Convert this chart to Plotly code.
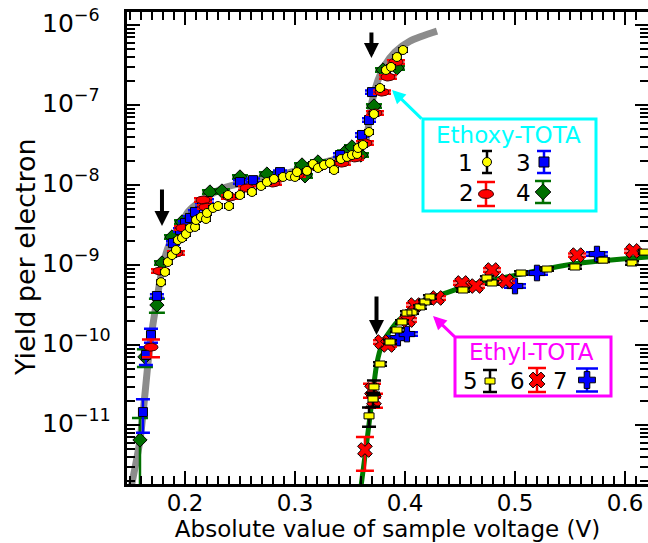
import numpy as np
import plotly.graph_objects as go

# ---------------- data ----------------
# Ethoxy-TOTA
s1_v = [0.1782, 0.1818, 0.1845, 0.1882, 0.1918, 0.1936, 0.1973, 0.2009, 0.2045, 0.2091,
        0.2100, 0.2145, 0.2191, 0.2200, 0.2255, 0.2300, 0.2391, 0.2400, 0.2500, 0.2609,
        0.2691, 0.2745, 0.2809, 0.2891, 0.2955, 0.3000, 0.3018, 0.3109, 0.3164, 0.3209,
        0.3264, 0.3318, 0.3355, 0.3418, 0.3473, 0.3518, 0.3564, 0.3573, 0.3618, 0.3673,
        0.3718, 0.3773, 0.3827, 0.3873, 0.3927, 0.3982]
s1_y = [6.1e-10, 8.2e-10, 1.09e-9, 1.33e-9, 1.54e-9, 2.05e-9, 2.18e-9, 2.44e-9, 2.9e-9, 2.99e-9,
        3.65e-9, 3.98e-9, 3.76e-9, 4.47e-9, 5.16e-9, 5.46e-9, 7.5e-9, 5.46e-9, 7.5e-9, 8.18e-9,
        9.72e-9, 1.09e-8, 1.19e-8, 1.26e-8, 1.3e-8, 1.26e-8, 1.45e-8, 1.5e-8, 1.83e-8, 1.63e-8,
        1.78e-8, 1.88e-8, 1.54e-8, 2.11e-8, 2.24e-8, 2.37e-8, 2.44e-8, 2.9e-8, 3.16e-8, 4.6e-8,
        7.72e-8, 1.63e-7, 2.74e-7, 2.99e-7, 3.98e-7, 4.87e-7]

s2_v = [0.1691, 0.1773, 0.1918, 0.1982, 0.2164, 0.2191, 0.2409, 0.2564, 0.2800, 0.3018,
        0.3200, 0.3427, 0.3545, 0.3636, 0.3727, 0.3791, 0.3845, 0.3918]
s2_y = [9.4e-11, 8.4e-10, 1.41e-9, 2.9e-9, 6.49e-9, 5.31e-9, 7.08e-9, 9.17e-9, 1.06e-8, 1.33e-8,
        1.68e-8, 1.88e-8, 2.18e-8, 3.35e-8, 7.94e-8, 1.45e-7, 2.24e-7, 3.45e-7]

s3_v = [0.1618, 0.1645, 0.1691, 0.1745, 0.1891, 0.1955, 0.2000, 0.2045, 0.2091, 0.2155,
        0.2200, 0.2500, 0.2618, 0.2864, 0.3409, 0.3609, 0.3673, 0.3700]
s3_y = [1.45e-11, 7.5e-11, 1.33e-10, 4.1e-10, 1.88e-9, 2.74e-9, 3.35e-9, 3.87e-9, 4.6e-9, 5.62e-9,
        6.31e-9, 1.09e-8, 1.15e-8, 1.45e-8, 2.37e-8, 4.22e-8, 6.49e-8, 1.45e-7]

s4_v = [0.1591, 0.1636, 0.1745, 0.1791, 0.1882, 0.1973, 0.2227, 0.2336, 0.2500, 0.2745,
        0.3064, 0.3091, 0.3209, 0.3455, 0.3518, 0.3600, 0.3718, 0.3800, 0.3927]
s4_y = [6.5e-12, 7.1e-11, 3.16e-10, 1.06e-9, 2.24e-9, 3.45e-9, 8.18e-9, 8.41e-9, 1.26e-8, 1.37e-8,
        1.78e-8, 1.3e-8, 1.94e-8, 2.58e-8, 2.99e-8, 2.37e-8, 9.72e-8, 2.74e-7, 2.9e-7]

# Ethyl-TOTA
s5_v = [0.3673, 0.3709, 0.3718, 0.3773, 0.3864, 0.3927, 0.3973, 0.4018, 0.4064, 0.4136,
        0.4182, 0.4227, 0.4527, 0.4745, 0.4791, 0.5055, 0.5291, 0.5545, 0.5800, 0.6064, 0.6180]
s5_y = [1.3e-11, 2.11e-11, 2.99e-11, 5.79e-11, 1.09e-10, 1.54e-10, 1.94e-10, 2.51e-10, 2.58e-10,
        2.99e-10, 3.45e-10, 3.98e-10, 4.87e-10, 6.88e-10, 5.96e-10, 7.94e-10, 8.91e-10, 9.44e-10,
        1.15e-9, 1.06e-9, 1.45e-9]

s6_v = [0.3636, 0.3700, 0.3718, 0.3791, 0.3845, 0.4027, 0.4091, 0.4291, 0.4518, 0.4645,
        0.4791, 0.4918, 0.5564, 0.6073]
s6_y = [4.87e-12, 2.74e-11, 2.05e-11, 1.09e-10, 1.0e-10, 2.05e-10, 3.16e-10, 3.87e-10, 5.96e-10,
        5.46e-10, 8.66e-10, 6.31e-10, 1.33e-9, 1.5e-9]

s7_v = [0.3936, 0.4018, 0.5000, 0.5200, 0.5745]
s7_y = [1.22e-10, 1.37e-10, 5.46e-10, 7.94e-10, 1.37e-9]

# y tick decades (labels 10^n)
y_tick_exps = [-6, -7, -8, -9, -10, -11]

# relative error bars: default and per-point exceptions
err_default = 0.05
s2_err_special = {0: 0.25}
s3_err_special = {0: 0.45, 1: 0.25, 2: 0.20}
s4_err_special = {0: 0.88, 1: 0.25, 2: 0.20}
s5_err_special = {0: 0.27, 1: 0.20, 2: 0.20}
s6_err_special = {0: 0.45, 1: 0.20, 2: 0.20}

# model curves
fit_ethoxy_v = [0.1515, 0.1591, 0.1682, 0.1745, 0.1800, 0.1864, 0.1955, 0.2027, 0.2136, 0.2336,
                0.2600, 0.2864, 0.3136, 0.3409, 0.3591, 0.3645, 0.3673, 0.3700, 0.3755, 0.3818,
                0.3909, 0.4045, 0.4291]
fit_ethoxy_y = [1.8e-12, 6.5e-12, 1.0e-10, 3.7e-10, 1.0e-9, 1.9e-9, 3.0e-9, 4.6e-9, 6.2e-9, 9.0e-9,
                1.12e-8, 1.33e-8, 1.7e-8, 2.2e-8, 2.8e-8, 3.7e-8, 6.0e-8, 1.1e-7, 2.05e-7, 3.16e-7,
                4.6e-7, 6.3e-7, 8.4e-7]
fit_ethyl_v = [0.3595, 0.3655, 0.3700, 0.3745, 0.3790, 0.3890, 0.4018, 0.4182, 0.4318, 0.4591,
               0.4927, 0.5527, 0.6209]
fit_ethyl_y = [1.5e-12, 6.5e-12, 2.05e-11, 5.96e-11, 1.0e-10, 1.68e-10, 2.51e-10, 3.65e-10,
               4.22e-10, 5.62e-10, 7.08e-10, 1.03e-9, 1.26e-9]

# ---------------- layout geometry ----------------
W, H = 648, 543
ML, MR, MT, MB = 127, 0, 12, 59
PW, PH = W - ML - MR, H - MT - MB
XR = [0.1473, 0.6209]
YR = [-11.7375, -5.8375]
KX = PW / (XR[1] - XR[0])   # px per volt
KY = PH / (YR[1] - YR[0])   # px per decade

FONT = "DejaVu Sans"
FS = 23
YEL, RED, BLU, GRN = "#FFFF00", "#FF0000", "#0000FF", "#006F00"
CYAN, MAG = "#00FFFF", "#FF00FF"


def errs(ys, special):
    return [y * special.get(i, err_default) for i, y in enumerate(ys)]


def blob_polys(vs, ys, a, b, kind, log=True, kx=KX, ky=KY):
    X, Y = [], []
    for v, y in zip(vs, ys):
        if kind == "ellipse":
            t = np.linspace(0, 2 * np.pi, 29)
            dx, dy = a * np.cos(t), b * np.sin(t)
        else:
            dx = np.array([-a, a, a, -a, -a])
            dy = np.array([-b, -b, b, b, -b])
        X += list(v + dx / kx) + [None]
        if log:
            Y += list(10 ** (np.log10(y) + dy / ky)) + [None]
        else:
            Y += list(y + dy / ky) + [None]
    return X, Y


fig = go.Figure()

# model curves
fig.add_trace(go.Scatter(x=fit_ethoxy_v, y=fit_ethoxy_y, mode="lines",
                         line=dict(color="#8c8c8c", width=7, shape="spline", smoothing=0.8),
                         hoverinfo="skip"))
fig.add_trace(go.Scatter(x=fit_ethyl_v, y=fit_ethyl_y, mode="lines",
                         line=dict(color="#007A00", width=5, shape="spline", smoothing=0.8),
                         hoverinfo="skip"))


def err_dict(arr, color, w):
    return dict(type="data", array=arr, visible=True, color=color, thickness=2.5, width=w)


# Ethoxy: 4 (green diamond), 3 (blue square), 2 (red ellipse), 1 (yellow circle)
fig.add_trace(go.Scatter(x=s4_v, y=s4_y, mode="markers", name="4",
                         marker=dict(symbol="diamond", size=11, color=GRN, line=dict(color="black", width=1)),
                         error_y=err_dict(errs(s4_y, s4_err_special), GRN, 8)))
fig.add_trace(go.Scatter(x=s3_v, y=s3_y, mode="markers", name="3",
                         marker=dict(symbol="square", size=9, color=BLU, line=dict(color="black", width=1)),
                         error_y=err_dict(errs(s3_y, s3_err_special), BLU, 7)))
fig.add_trace(go.Scatter(x=s2_v, y=s2_y, mode="markers", name="2 err",
                         marker=dict(size=2, color="rgba(0,0,0,0)"),
                         error_y=err_dict(errs(s2_y, s2_err_special), RED, 9)))
ex, ey = blob_polys(s2_v, s2_y, 7, 4, "ellipse")
fig.add_trace(go.Scatter(x=ex, y=ey, mode="lines", fill="toself", fillcolor=RED,
                         line=dict(color="#400000", width=1), name="2", hoverinfo="skip"))
fig.add_trace(go.Scatter(x=s1_v, y=s1_y, mode="markers", name="1",
                         marker=dict(symbol="circle", size=9, color=YEL, line=dict(color="black", width=1)),
                         error_y=err_dict([y * err_default for y in s1_y], "black", 5)))

# Ethyl: 7 (blue cross), 6 (red x), 5 (yellow rectangle)
fig.add_trace(go.Scatter(x=s7_v, y=s7_y, mode="markers", name="7",
                         marker=dict(symbol="cross", size=13, color=BLU, line=dict(color="black", width=1)),
                         error_y=err_dict([y * err_default for y in s7_y], BLU, 11)))
fig.add_trace(go.Scatter(x=s6_v, y=s6_y, mode="markers", name="6",
                         marker=dict(symbol="x", size=13, color=RED, line=dict(color="black", width=1)),
                         error_y=err_dict(errs(s6_y, s6_err_special), RED, 9)))
fig.add_trace(go.Scatter(x=s5_v, y=s5_y, mode="markers", name="5 err",
                         marker=dict(size=2, color="rgba(0,0,0,0)"),
                         error_y=err_dict(errs(s5_y, s5_err_special), "black", 7)))
rx, ry = blob_polys(s5_v, s5_y, 5, 3, "rect")
fig.add_trace(go.Scatter(x=rx, y=ry, mode="lines", fill="toself", fillcolor=YEL,
                         line=dict(color="black", width=1), name="5", hoverinfo="skip"))


# ---------------- legend boxes (paper-fraction overlay axes) ----------------
def fx(px):
    return (px - ML) / PW


def fy(py):
    return (MT + PH - py) / PH


KXP, KYP = PW, PH  # px per unit of overlay axes

leg = [  # (px, py, symbol, size, color, errcolor, err_px, capw)
    (487, 162, "circle", 9, YEL, "black", 11, 5),
    (544, 162, "square", 10, BLU, BLU, 11, 7),
    (543, 192, "diamond", 12, GRN, GRN, 11, 8),
    (537, 380, "x", 14, RED, RED, 12, 9),
    (587, 380, "cross", 14, BLU, BLU, 11.5, 11),
]
for px, py, sym, sz, col, ecol, epx, cw in leg:
    fig.add_trace(go.Scatter(x=[fx(px)], y=[fy(py)], xaxis="x2", yaxis="y2", mode="markers",
                             marker=dict(symbol=sym, size=sz, color=col, line=dict(color="black", width=1)),
                             error_y=dict(type="data", array=[epx / PH], color=ecol, thickness=2.5, width=cw),
                             hoverinfo="skip"))
# ellipse key (2) and rectangle key (5)
fig.add_trace(go.Scatter(x=[fx(486)], y=[fy(194)], xaxis="x2", yaxis="y2", mode="markers",
                         marker=dict(size=2, color="rgba(0,0,0,0)"),
                         error_y=dict(type="data", array=[12 / PH], color=RED, thickness=2.5, width=9)))
lx, ly = blob_polys([fx(486)], [fy(194)], 7.5, 4.5, "ellipse", log=False, kx=KXP, ky=KYP)
fig.add_trace(go.Scatter(x=lx, y=ly, xaxis="x2", yaxis="y2", mode="lines", fill="toself",
                         fillcolor=RED, line=dict(color="#400000", width=1), hoverinfo="skip"))
fig.add_trace(go.Scatter(x=[fx(490)], y=[fy(381)], xaxis="x2", yaxis="y2", mode="markers",
                         marker=dict(size=2, color="rgba(0,0,0,0)"),
                         error_y=dict(type="data", array=[11 / PH], color="black", thickness=2.5, width=7)))
lx, ly = blob_polys([fx(490)], [fy(381)], 5, 3, "rect", log=False, kx=KXP, ky=KYP)
fig.add_trace(go.Scatter(x=lx, y=ly, xaxis="x2", yaxis="y2", mode="lines", fill="toself",
                         fillcolor=YEL, line=dict(color="black", width=1), hoverinfo="skip"))

shapes = [
    dict(type="rect", xref="paper", yref="paper", x0=fx(423), x1=fx(596), y0=fy(119), y1=fy(211),
         line=dict(color=CYAN, width=3), fillcolor="rgba(0,0,0,0)", layer="below"),
    dict(type="rect", xref="paper", yref="paper", x0=fx(455), x1=fx(611), y0=fy(337), y1=fy(396),
         line=dict(color=MAG, width=3), fillcolor="rgba(0,0,0,0)", layer="below"),
]

ann = []


def label(text, px, py, color, size=FS, angle=0):
    return dict(text=text, x=fx(px), y=fy(py), xref="paper", yref="paper", showarrow=False,
                xanchor="center", yanchor="middle", textangle=angle,
                font=dict(color=color, size=size, family=FONT))


# y tick labels, left-aligned as in the original figure
for e in y_tick_exps:
    ann.append(dict(text="10<sup>\u2212%d</sup>" % (-e), x=fx(40), y=e, xref="paper", yref="y",
                    showarrow=False, xanchor="left", yanchor="middle", yshift=4,
                    font=dict(color="black", size=25, family=FONT)))
ann.append(label("Yield per electron", 25, 257, "black", size=27, angle=-90))
ann.append(label("Ethoxy-TOTA", 508, 135, CYAN))
ann.append(label("Ethyl-TOTA", 531, 352, MAG))
for t, px, py in [("1", 465, 163), ("3", 523, 163), ("2", 466, 193), ("4", 523, 193),
                  ("5", 470, 381), ("6", 517, 381), ("7", 560, 381)]:
    ann.append(label(t, px, py, "black"))
# pointer arrows from the boxes
ann.append(dict(text="", x=fx(392), y=fy(90), xref="paper", yref="paper", ax=31, ay=30,
                showarrow=True, arrowhead=2, arrowsize=0.9, arrowwidth=3, arrowcolor=CYAN))
ann.append(dict(text="", x=fx(433), y=fy(316), xref="paper", yref="paper", ax=23, ay=22,
                showarrow=True, arrowhead=2, arrowsize=0.9, arrowwidth=3, arrowcolor=MAG))
# black onset arrows
for xv, ylog, ay in [(0.1791, -8.5125, -38), (0.3695, -6.4125, -27), (0.3741, -9.875, -40)]:
    ann.append(dict(text="", x=xv, y=ylog, xref="x", yref="y", ax=0, ay=ay, showarrow=True,
                    arrowhead=2, arrowsize=0.75, arrowwidth=4, arrowcolor="black"))

axis_common = dict(showline=True, linewidth=3, linecolor="black", mirror="ticks",
                   ticks="inside", ticklen=13, tickwidth=2, tickcolor="black",
                   showgrid=False, zeroline=False, automargin=False,
                   tickfont=dict(size=FS, family=FONT, color="black"))

fig.update_layout(
    width=W, height=H,
    margin=dict(l=ML, r=MR, t=MT, b=MB, pad=0, autoexpand=False),
    paper_bgcolor="white", plot_bgcolor="white",
    showlegend=False,
    font=dict(family=FONT, color="black"),
    xaxis=dict(range=XR, dtick=0.1, tick0=0, tickformat=".1f", ticklabelstandoff=-4,
               minor=dict(ticks="inside", ticklen=8, tickwidth=1.5, dtick=0.01, tick0=0, tickcolor="black"),
               title=dict(text="Absolute value of sample voltage (V)", font=dict(size=FS, family=FONT),
                          standoff=0),
               **axis_common),
    yaxis=dict(type="log", range=YR, dtick=1, showticklabels=False,
               minor=dict(ticks="inside", ticklen=8, tickwidth=1.5, dtick="D1", tickcolor="black"),
               **axis_common),
    xaxis2=dict(overlaying="x", range=[0, 1], visible=False, anchor="y2"),
    yaxis2=dict(overlaying="y", range=[0, 1], visible=False, anchor="x2"),
    shapes=shapes,
    annotations=ann,
)

fig.write_html("out.html", config={"displayModeBar": False},
               post_script="document.body.style.margin='0px';document.body.style.padding='0px';")
